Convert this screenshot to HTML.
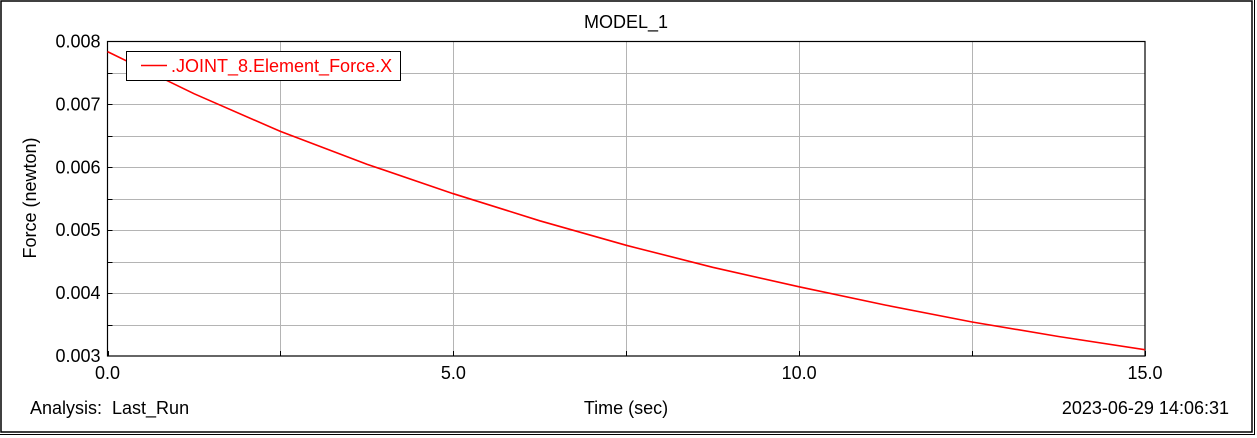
<!DOCTYPE html>
<html><head><meta charset="utf-8"><style>
body{margin:0;background:#fff;font-family:"Liberation Sans",Arial,sans-serif}
svg{display:block}
text{white-space:pre}
</style></head><body>
<svg id="c" width="1257" height="438" xmlns="http://www.w3.org/2000/svg" font-family="Liberation Sans, Arial, sans-serif">
<rect x="1" y="1" width="1251" height="431" fill="none" stroke="#000" stroke-width="1.5"/>
<line x1="0" y1="434.5" x2="1255" y2="434.5" stroke="#000"/>
<line x1="1254.5" y1="0" x2="1254.5" y2="435" stroke="#000"/>
<text x="626" y="28" text-anchor="middle" font-size="18">MODEL_1</text>
<g id="grid"></g>
<g id="axes"></g>
<polyline id="line" fill="none" stroke="#ff0000" stroke-width="1.6"/>
<g>
<rect x="126.5" y="51.5" width="274" height="29" fill="#fff" stroke="#000"/>
<line x1="141" y1="65.5" x2="167" y2="65.5" stroke="#ff0000" stroke-width="1.6"/>
<text x="171" y="72" font-size="18" fill="#ff0000">.JOINT_8.Element_Force.X</text>
</g>
<text transform="translate(36,198) rotate(-90)" text-anchor="middle" font-size="18">Force (newton)</text>
<text x="626" y="414" text-anchor="middle" font-size="18">Time (sec)</text>
<text x="30" y="414" font-size="18" xml:space="preserve">Analysis:  Last_Run</text>
<text x="1229" y="414" text-anchor="end" font-size="18">2023-06-29 14:06:31</text>
</svg>
<script>
const times=[0,1.25,2.5,3.75,5,6.25,7.5,8.75,10,11.25,12.5,13.75,15];
const forces=[0.00784,0.00717,0.00657,0.00605,0.00558,0.00515,0.00476,0.00441,0.0041,0.00381,0.00354,0.00331,0.0031];
const xTicks=[0,5,10,15];
const xTickLabels=["0.0","5.0","10.0","15.0"];
const yTicks=[0.003,0.004,0.005,0.006,0.007,0.008];
const yTickLabels=["0.003","0.004","0.005","0.006","0.007","0.008"];
const X0=107.5,X1=1145,Y0=356,Y1=41.5;
const xs=v=>X0+(v-0)/(15-0)*(X1-X0);
const ys=v=>Y0-(v-0.003)/(0.008-0.003)*(Y0-Y1);
const NS="http://www.w3.org/2000/svg";
function mk(t,a,p){const e=document.createElementNS(NS,t);for(const k in a)e.setAttribute(k,a[k]);p.appendChild(e);return e;}
const grid=document.getElementById('grid'),axes=document.getElementById('axes');
for(let i=0;i<=6;i++){const v=i*2.5;const x=Math.round(xs(v))+0.5;
 if(i>0&&i<6){const l=mk('line',{x1:x,y1:Y1,x2:x,y2:Y0,stroke:'#b4b4b4'},grid);
 
 }
 const t=mk('line',{x1:x,y1:Y0,x2:x,y2:Y0-5,stroke:'#000'},axes);
 
 }
for(let i=1;i<10;i++){const v=0.003+i*0.0005;const y=Math.round(ys(v))+0.5;
 const l=mk('line',{x1:X0,y1:y,x2:X1,y2:y,stroke:'#b4b4b4'},grid);
 
 
 const t=mk('line',{x1:X0,y1:y,x2:X0+5,y2:y,stroke:'#000'},axes);
 
 }
const fr=mk('rect',{x:X0,y:Y1,width:X1-X0,height:Y0-Y1,fill:'none',stroke:'#000','stroke-width':1.2},axes);


xTicks.forEach((v,i)=>{const t=mk('text',{x:xs(v),y:Y0+23,'text-anchor':'middle','font-size':18},axes);t.textContent=xTickLabels[i];
 
 });
yTicks.forEach((v,i)=>{const t=mk('text',{x:X0-7,y:ys(v)+6,'text-anchor':'end','font-size':18},axes);t.textContent=yTickLabels[i];
 
 });
document.getElementById('line').setAttribute('points',times.map((t,i)=>xs(t).toFixed(1)+','+ys(forces[i]).toFixed(1)).join(' '));
</script>
</body></html>
